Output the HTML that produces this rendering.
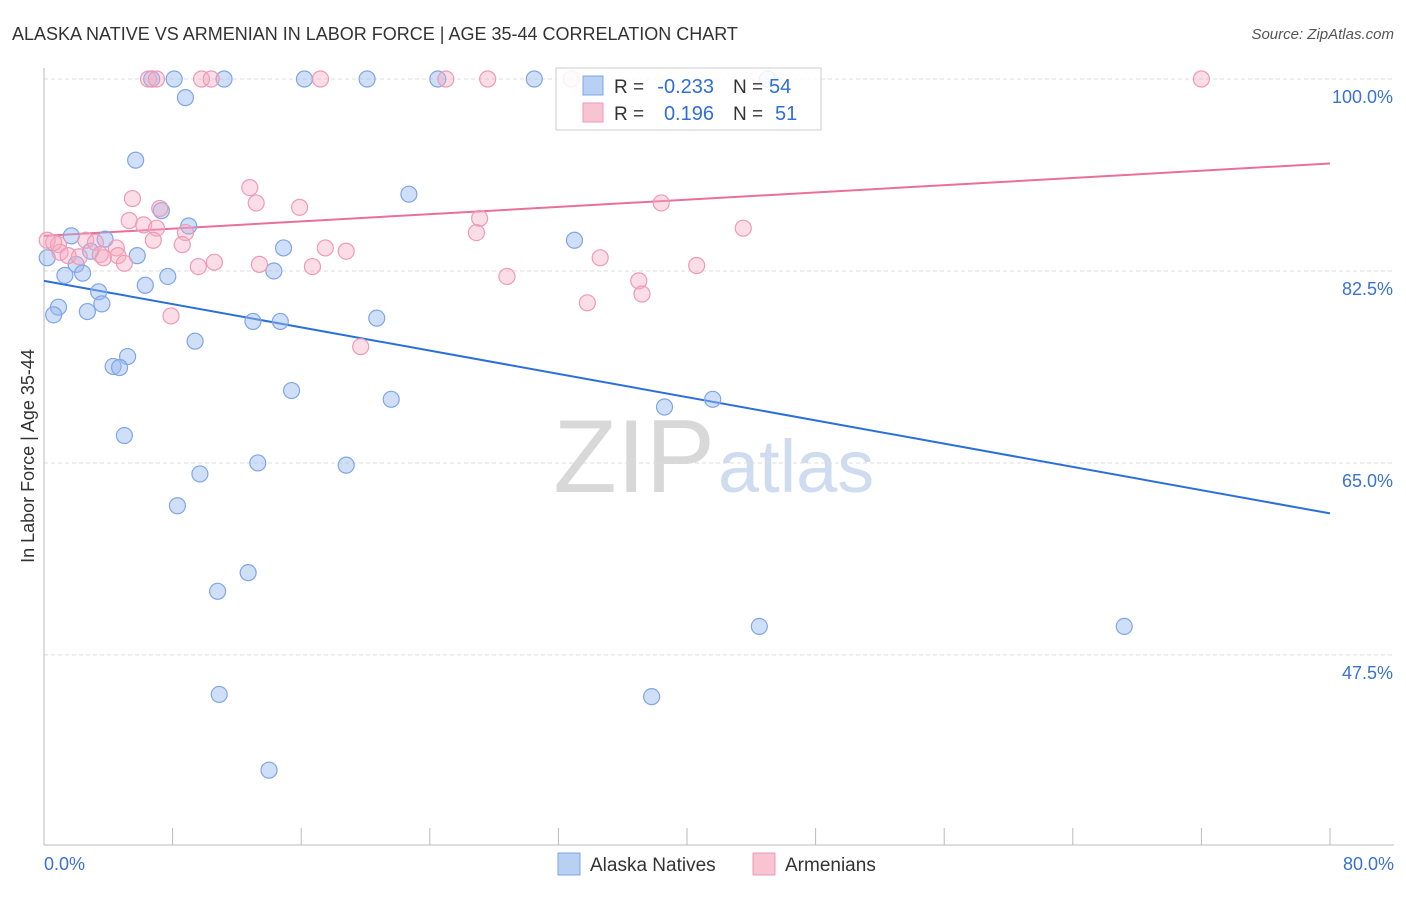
<!DOCTYPE html>
<html><head><meta charset="utf-8"><style>
body{margin:0;background:#fff;font-family:"Liberation Sans",sans-serif;}
svg text{font-family:"Liberation Sans",sans-serif;}
</style></head><body>
<svg id="chart" width="1406" height="892" xmlns="http://www.w3.org/2000/svg">
<text x="12" y="40" font-size="18" fill="#333">ALASKA NATIVE VS ARMENIAN IN LABOR FORCE | AGE 35-44 CORRELATION CHART</text>
<text x="1394" y="39" font-size="15" fill="#555" text-anchor="end" font-style="italic">Source: ZipAtlas.com</text>
<text x="715" y="492" font-size="104" text-anchor="end" font-family="Liberation Serif" fill="#d8d8d8">ZIP</text>
<text x="718" y="492" font-size="74" fill="#cfdcf0">atlas</text>
<g id="grid"></g><g id="axes"></g><g id="trends"></g><g id="pts"></g>
<text transform="translate(34,456) rotate(-90)" font-size="18" fill="#333" text-anchor="middle">In Labor Force | Age 35-44</text>
<g>
<rect x="556" y="68" width="265" height="62" fill="rgba(255,255,255,0.85)" stroke="#ccc"/>
<rect x="583" y="76" width="20" height="19" fill="#b8d0f4" stroke="#7fa6e6"/>
<rect x="583" y="103" width="20" height="19" fill="#f8c3d3" stroke="#ef9ab4"/>
<text x="614" y="93" font-size="19" fill="#333">R =</text>
<text x="714" y="93" font-size="20" fill="#2f6fd6" text-anchor="end">-0.233</text>
<text x="733" y="93" font-size="19" fill="#333">N =</text>
<text x="769" y="93" font-size="20" fill="#2f6fd6">54</text>
<text x="614" y="120" font-size="19" fill="#333">R =</text>
<text x="714" y="120" font-size="20" fill="#2f6fd6" text-anchor="end">0.196</text>
<text x="733" y="120" font-size="19" fill="#333">N =</text>
<text x="775" y="120" font-size="20" fill="#2f6fd6">51</text>
</g>
<g>
<rect x="558" y="853" width="22" height="22" fill="#b8d0f4" stroke="#7fa6e6"/>
<text x="590" y="871" font-size="19" fill="#333">Alaska Natives</text>
<rect x="753" y="853" width="22" height="22" fill="#f8c3d3" stroke="#ef9ab4"/>
<text x="785" y="871" font-size="19" fill="#333">Armenians</text>
</g>
</svg>
<script>
const xTicks=[0,8,16,24,32,40,48,56,64,72,80];
const yTicks=[100,82.5,65,47.5];
const blueX=[6.7,8.1,11.2,16.2,20.1,24.5,30.5,45.0,8.8,5.7,22.7,7.3,9.0,1.7,3.8,14.9,33.0,5.8,0.2,2.9,2.0,1.3,2.4,14.3,7.7,6.3,3.4,0.9,3.6,0.6,2.7,13.0,14.7,20.7,9.4,5.2,4.3,4.7,15.4,21.6,38.6,41.6,5.0,13.3,18.8,9.7,8.3,12.7,10.8,44.5,67.2,10.9,37.8,14.0];
const blueY=[100,100,100,100,100,100,100,100,98.3,92.6,89.5,88.0,86.6,85.7,85.4,84.6,85.3,83.9,83.7,84.3,83.1,82.1,82.3,82.5,82.0,81.2,80.6,79.2,79.5,78.5,78.8,77.9,77.9,78.2,76.1,74.7,73.8,73.7,71.6,70.8,70.1,70.8,67.5,65.0,64.8,64.0,61.1,55.0,53.3,50.1,50.1,43.9,43.7,37.0];
const pinkX=[6.5,7.0,9.8,10.4,17.2,25.0,27.6,32.8,72.0,12.8,5.5,13.2,15.9,38.4,7.2,27.1,5.3,6.2,7.0,8.8,43.5,26.9,0.2,0.9,2.6,3.2,6.8,8.6,17.5,18.8,1.0,1.5,3.5,4.5,3.7,4.6,5.0,10.6,9.6,13.4,16.7,34.6,40.6,28.8,37.0,37.2,33.8,7.9,19.7,0.6,2.2];
const pinkY=[100,100,100,100,100,100,100,100,100,90.1,89.1,88.7,88.3,88.7,88.2,87.3,87.1,86.7,86.4,86.0,86.4,86.0,85.3,84.9,85.3,85.1,85.3,84.9,84.6,84.3,84.2,83.9,84.0,84.6,83.7,83.9,83.2,83.3,82.9,83.1,82.9,83.7,83.0,82.0,81.6,80.4,79.6,78.4,75.6,85.1,83.8];
const blueTrend=[81.6,60.4];
const pinkTrend=[85.7,92.3];
const NS="http://www.w3.org/2000/svg";
const X0=44,X1=1330,YT=79,PY=10.97;
const sx=v=>X0+(v-0)/80*(X1-X0);
const sy=v=>YT+(100-v)*PY;
function mk(tag,attrs,parent){const e=document.createElementNS(NS,tag);for(const k in attrs)e.setAttribute(k,attrs[k]);document.getElementById(parent).appendChild(e);return e;}
yTicks.forEach(v=>{
 const l=mk('line',{x1:X0,x2:1394,y1:sy(v),y2:sy(v),stroke:'#ddd','stroke-dasharray':'4,3'},'grid');
 
 
 const t=mk('text',{x:1393,y:sy(v)+24,'font-size':18,fill:'#3a72d0','text-anchor':'end'},'grid');
 t.textContent=v.toFixed(1)+'%';
 
 
});
const ax=mk('line',{x1:X0,x2:X0,y1:68,y2:845,stroke:'#bbb'},'axes');


const bx=mk('line',{x1:X0,x2:1394,y1:845,y2:845,stroke:'#bbb'},'axes');


xTicks.forEach(v=>{
 const t=mk('line',{x1:sx(v),x2:sx(v),y1:828,y2:845,stroke:'#bbb'},'axes');
 
 
});
[[0,'start'],[80,'end']].forEach(([v,a])=>{
 const t=mk('text',{x:v===0?44:1394,y:870,'font-size':18,fill:'#3a72d0','text-anchor':a},'axes');
 t.textContent=v.toFixed(1)+'%';
 
 
});
const bt=mk('line',{x1:sx(0),y1:sy(blueTrend[0]),x2:sx(80),y2:sy(blueTrend[1]),stroke:'#2b6fd8','stroke-width':2},'trends');


const pt=mk('line',{x1:sx(0),y1:sy(pinkTrend[0]),x2:sx(80),y2:sy(pinkTrend[1]),stroke:'#e8709a','stroke-width':2},'trends');


blueX.forEach((v,i)=>{
 const c=mk('circle',{cx:sx(v),cy:sy(blueY[i]),r:8,fill:'rgba(150,185,240,0.45)',stroke:'#7fa6e6','stroke-width':1.2},'pts');
 
 
});
pinkX.forEach((v,i)=>{
 const c=mk('circle',{cx:sx(v),cy:sy(pinkY[i]),r:8,fill:'rgba(246,170,195,0.4)',stroke:'#ef9ab4','stroke-width':1.2},'pts');
 
 
});
</script>
</body></html>
